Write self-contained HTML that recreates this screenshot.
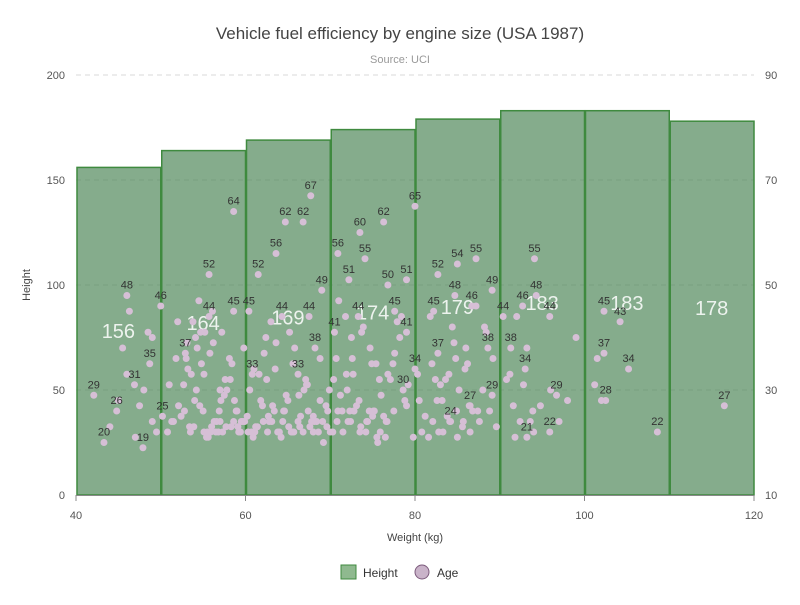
<!DOCTYPE html>
<html><head><meta charset="utf-8"><style>
body{margin:0;background:#fff;font-family:"Liberation Sans",sans-serif}
</style></head><body>
<svg id="c" width="800" height="600" xmlns="http://www.w3.org/2000/svg">
<text x="400" y="39" text-anchor="middle" font-size="17" fill="#444">Vehicle fuel efficiency by engine size (USA 1987)</text>
<text x="400" y="63" text-anchor="middle" font-size="11" fill="#999">Source: UCI</text>
<g id="grid"></g><g id="bars"></g><g id="pts"></g><g id="axes"></g>
<g>
<g><rect x="341" y="565" width="15" height="14" fill="#8fb98f" stroke="#3f8a3f"/><text x="363" y="577" font-size="12" fill="#333">Height</text></g>
<g><circle cx="422" cy="572" r="7" fill="#c9b3c9" stroke="#7c5a7c"/><text x="437" y="577" font-size="12" fill="#333">Age</text></g>
</g>
</svg>
<script>
const binStarts=[40,50,60,70,80,90,100,110];
const heights=[156,164,169,174,179,183,183,178];
const xTicks=[40,60,80,100,120];
const yLeftTicks=[0,50,100,150,200];
const yRightTicks=[10,30,50,70,90];
const labeledW=[42.1,43.3,44.8,46,46.9,48.7,47.9,50,50.2,55.7,55.7,52.9,58.6,58.6,60.4,61.5,63.6,64.7,66.8,67.7,60.8,66.2,68.2,67.5,64.3,69,70.9,70.5,72.2,73.5,74.1,73.3,76.3,76.8,77.6,79,79,78.6,80,80,82.7,85,87.2,82.2,84.7,86.7,82.7,89.1,90.4,88.6,89.1,86.5,84.2,92.7,94.3,94.1,95.9,91.3,93,93.2,95.9,96.7,102.3,104.2,102.3,105.2,102.5,108.6,116.5];
const labeledAge=[29,20,26,48,31,35,19,46,25,52,44,37,64,45,45,52,56,62,62,67,33,33,38,44,44,49,56,41,51,60,55,44,62,50,45,51,41,30,34,65,52,54,55,45,48,46,37,49,44,38,29,27,24,46,48,55,44,38,34,21,22,29,45,43,37,34,28,22,27];
const otherW=[46.3,45,44,47,48.5,49,49.5,48,46,45.5,47.5,49,51,52,53,53.5,54,54.5,55,56,57,55.2,54.3,53.2,52.1,51.3,56.5,57.5,58.2,59,59.5,55.8,54.8,53.6,52.7,56.2,57.2,58.7,59.4,51.8,52.4,53.9,55.4,56.9,57.8,58.4,59.8,54.1,55.1,56.1,57.1,58.1,59.1,53.1,54.6,55.6,56.6,57.6,58.9,60.5,61.2,62,62.8,63.5,64.2,65,65.8,66.5,67.3,68,68.8,69.5,61.6,62.4,63.2,64,64.8,65.6,66.4,67.2,68,68.8,69.6,60.9,61.8,62.7,63.6,64.5,65.4,66.3,67.1,68.4,69.2,60.2,61,63,65.2,67.6,69.9,62.2,64.6,66.9,59.7,62.5,71,71.8,72.6,73.4,74.2,75,75.8,76.6,77.4,78.2,79,79.8,70.4,71.2,72,72.8,73.6,74.4,75.2,76,76.8,77.6,78.4,79.2,71.5,72.3,73.1,73.9,74.7,75.5,76.3,77.1,70.7,72.5,74.9,76.5,78.8,71.9,73.7,75.6,77.9,80.5,81.2,82,82.8,83.6,84.4,85.2,86,86.8,87.6,88.4,89.2,81.6,82.4,83.2,84,84.8,85.6,86.4,87.2,88,88.8,80.8,81.8,83,84.6,85.9,87.4,89.6,80.3,82.6,85,86.2,88.2,83.8,90.8,91.6,92.4,93.2,94,91.2,92,92.8,93.6,94.8,96,97,98,91.8,93.9,99,101.5,102,101.2,70.9,75.4,72.7,
53.4,53.8,54.2,54.7,55.1,55.5,55.9,56.3,56.8,57.3,57.7,58.3,59.2,59.9,60.3,60.7,61.4,62.1,62.6,63.1,63.8,64.4,65.1,65.7,66.2,66.8,67.4,68.1,68.6,69.1,69.7,70.3,70.8,71.4,72.1,72.8,73.5,74.3,75.1,75.9,76.7,77.5,51.5,50.8,52.8,57,58.6,61.1,63.4,65.5,67.8,70,72.4,74.6,83.3,84.1,84.9,85.7,86.5,82.1];
const otherAge=[45,28,23,21,41,24,22,30,33,38,27,40,31,43,36,22,28,47,26,23,30,41,38,34,27,24,22,29,32,26,24,37,35,33,31,39,41,28,22,36,25,23,21,26,30,35,38,40,33,45,28,36,23,39,27,21,24,32,26,30,23,27,24,34,21,28,38,25,31,22,36,27,33,40,27,22,29,35,23,31,25,28,23,21,28,25,39,26,22,29,32,24,20,25,34,43,41,23,30,37,26,30,24,32,47,44,36,28,22,25,32,24,35,40,27,21,32,29,30,26,23,24,26,29,33,37,44,31,22,26,27,42,38,21,25,32,36,40,35,21,28,33,41,20,43,28,25,35,22,32,42,30,38,26,24,41,36,21,32,28,33,36,23,27,46,30,26,22,44,31,39,34,26,23,33,28,21,35,42,25,32,27,24,38,22,33,44,31,24,27,30,24,28,21,26,40,36,28,31,26,35,33,23,43,30,41,
22,22,22,24,22,22,23,23,22,24,22,22,23,24,22,24,22,24,23,22,24,22,26,24,22,24,26,22,24,26,24,26,22,24,26,22,24,26,24,22,26,24,24,22,26,22,24,22,24,26,22,24,26,24,22,24,26,22,24,26];
const NS="http://www.w3.org/2000/svg";
const L=76,R=754,T=75,B=495;
const x=v=>L+(v-40)/80*(R-L);
const yL=v=>B-v/200*(B-T);
const yR=v=>B-(v-10)/80*(B-T);
function mk(tag,attrs,parent,text){const e=document.createElementNS(NS,tag);for(const k in attrs)e.setAttribute(k,attrs[k]);if(text!==undefined)e.textContent=text;parent.appendChild(e);return e;}
const grid=document.getElementById('grid'),bars=document.getElementById('bars'),pts=document.getElementById('pts'),axes=document.getElementById('axes');
yLeftTicks.forEach((t,i)=>{
  if(t>0){const g=mk('line',{x1:L,x2:R,y1:yL(t),y2:yL(t),stroke:'#d8d8d8','stroke-dasharray':'5,4'},grid);
  
  }
  const a=mk('text',{x:L-11,y:yL(t)+4,'text-anchor':'end','font-size':11,fill:'#555'},axes,t);
  
  
});
yRightTicks.forEach(t=>{
  const a=mk('text',{x:R+11,y:yR(t)+4,'font-size':11,fill:'#555'},axes,t);
  
  
});
binStarts.forEach((s,i)=>{
  const r=mk('rect',{x:x(s)+1,y:yL(heights[i]),width:x(s+10)-x(s)-1,height:B-yL(heights[i]),fill:'rgba(75,132,85,0.68)',stroke:'#3f8a3f','stroke-width':1.5},bars);
  
  
  const t=mk('text',{x:(x(s)+x(s+10))/2,y:(yL(heights[i])+B)/2+7,'text-anchor':'middle','font-size':20,fill:'rgba(255,255,255,0.85)'},bars,heights[i]);
  
  
});
otherW.forEach((w,i)=>{
  const c=mk('circle',{cx:x(w),cy:yR(otherAge[i]),r:3.5,fill:'#d6bfd6'},pts);
  
  
});
labeledW.forEach((w,i)=>{
  const c=mk('circle',{cx:x(w),cy:yR(labeledAge[i]),r:3.5,fill:'#d6bfd6'},pts);
  
  
  const t=mk('text',{x:x(w),y:yR(labeledAge[i])-7,'text-anchor':'middle','font-size':11,fill:'#333'},pts,labeledAge[i]);
  
  
});
mk('line',{x1:L,x2:R,y1:B+0.5,y2:B+0.5,stroke:'#888'},axes);
xTicks.forEach(t=>{
  mk('line',{x1:x(t),x2:x(t),y1:B,y2:B+6,stroke:'#888'},axes);
  const a=mk('text',{x:x(t),y:B+24,'text-anchor':'middle','font-size':11,fill:'#555'},axes,t);
  
  
});
const xt=mk('text',{x:(L+R)/2,y:541,'text-anchor':'middle','font-size':11,fill:'#444'},axes,'Weight (kg)');


const yt=mk('text',{x:30,y:285,'text-anchor':'middle','font-size':11,fill:'#444',transform:'rotate(-90 30 285)'},axes,'Height');


</script>
</body></html>
